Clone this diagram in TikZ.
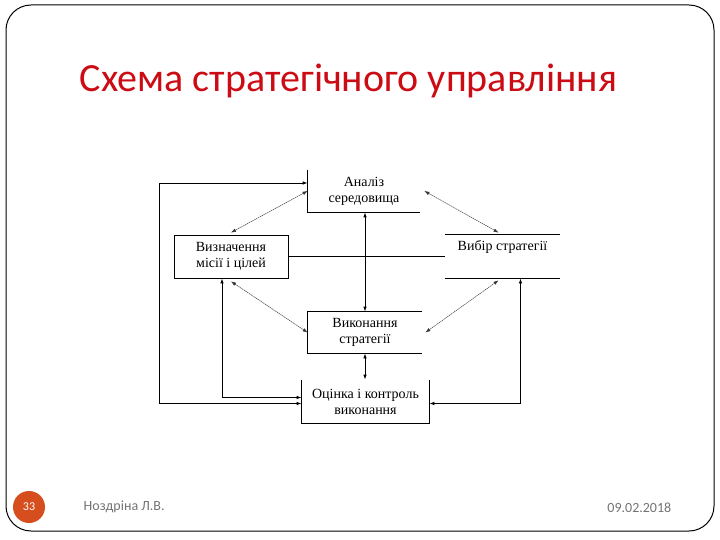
\documentclass[tikz,border=0pt]{standalone}
\usepackage{fontspec}
\setmainfont{Liberation Serif}
\newfontfamily\slidefont{Carlito}
\usetikzlibrary{arrows.meta}
\definecolor{titlered}{RGB}{204,12,20}
\definecolor{pagered}{RGB}{214,78,30}

\begin{document}
\begin{tikzpicture}[x=1pt,y=-1pt,line width=0.8pt,
  blk/.style={minimum width=114pt,minimum height=42pt,inner sep=0pt,align=center,font=\fontsize{14}{16}\selectfont},
  dbl/.style={{Latex[length=5pt,width=3.5pt]}-{Latex[length=5pt,width=3.5pt]}},
  diag/.style={dbl,line width=0.45pt,dash pattern=on 1.5pt off 0.6pt,draw=black!80}]
\useasboundingbox (0,0) rectangle (720,540);
\draw[line width=1pt,rounded corners=25pt] (6,5) rectangle (714,531);
\node[anchor=base west,text=titlered,font=\slidefont\fontsize{40}{44}\selectfont] (title) at (76,92) {Схема стратегічного управління};

\node[blk,minimum width=112pt] (analiz) at (364,191) {Аналіз\\середовища};
\node[blk,draw,minimum height=43pt] (vyznach) at (231,256.5) {Визначення\\місії і цілей};
\node[blk,minimum width=115pt,minimum height=43pt] (vybir) at (502.5,256.5) {};
\node[anchor=base,font=\fontsize{14}{16}\selectfont] (vybirtxt) at (502.5,250) {Вибір стратегії};
\node[blk,minimum height=41pt] (vykon) at (365,332.5) {Виконання\\стратегії};
\node[blk,minimum width=127pt,minimum height=43pt] (ocinka) at (365.5,401.5) {Оцінка і контроль\\виконання};

\draw (analiz.north west) -- (analiz.south west) -- (analiz.south east);
\draw (vybir.north west) -- (vybir.north east) (vybir.south west) -- (vybir.south east);
\draw (vykon.north east) -- (vykon.north west) -- (vykon.south west) -- (vykon.south east);
\draw (ocinka.north west) -- (ocinka.south west) -- (ocinka.south east) -- (ocinka.north east);

\draw[dbl] ([yshift=-2pt]ocinka.west) -- ++(-142,0) |- ([yshift=8pt]analiz.west);
\draw[dbl] ([xshift=-9pt]vyznach.south) |- ([yshift=4pt]ocinka.west);
\draw[dbl] ([xshift=18pt]vybir.south) |- ([yshift=-2pt]ocinka.east);
\draw[dbl] (vykon.north) -- (vykon.north |- analiz.south);
\draw (vyznach.east) -- (vybir.west);
\draw[dbl] (vykon.south) -- (vykon.south |- ocinka.north);

\draw[diag] (analiz.west) -- ([yshift=2pt]vyznach.north);
\draw[diag] ([yshift=-3pt]vyznach.south) -- (vykon.west);
\draw[diag] ([xshift=4pt]analiz.east) -- ([xshift=-4pt,yshift=2pt]vybir.north);
\draw[diag] ([xshift=-4pt,yshift=-2pt]vybir.south) -- ([xshift=3pt]vykon.east);

\node[circle,fill=pagered,minimum size=32pt,inner sep=0pt,text=white,font=\slidefont\fontsize{12}{12}\selectfont] (pagenum) at (29,507) {33};
\node[anchor=base west,text=black!55,font=\slidefont\fontsize{14}{14}\selectfont] (author) at (80,510) {Ноздріна Л.В.};
\node[anchor=base east,text=black!55,font=\slidefont\fontsize{14}{14}\selectfont] (date) at (675,512) {09.02.2018};
\end{tikzpicture}
\end{document}
